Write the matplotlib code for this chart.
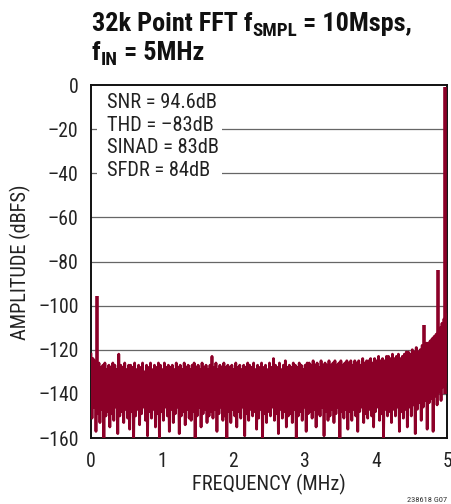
import numpy as np
import matplotlib
matplotlib.use("Agg")
import matplotlib.pyplot as plt
from matplotlib import font_manager
from matplotlib.patches import Rectangle

installed = {f.name for f in font_manager.fontManager.ttflist}
narrow = [n for n in ['Liberation Sans Narrow', 'Roboto Condensed', 'Open Sans Condensed',
                      'Noto Sans Condensed', 'Liberation Sans'] if n in installed]
plt.rcParams['font.family'] = narrow[:1] + ['DejaVu Sans']

noise_db = [
    -122, -151, -124, -146, -125, -157, -127, -149, -126, -153, -128, -147, -127, -160, -126, -150, -129, -148, -127, -155,
    -128, -149, -126, -152, -127, -146, -129, -158, -122, -150, -127, -148, -128, -153, -126, -147, -129, -151, -127, -156,
    -127, -148, -128, -160, -126, -150, -129, -147, -127, -154, -128, -149, -126, -146, -130, -152, -127, -159, -128, -148,
    -126, -151, -129, -147, -127, -155, -128, -149, -126, -160, -127, -148, -129, -152, -126, -146, -128, -150, -127, -157,
    -128, -147, -127, -153, -129, -149, -126, -146, -128, -158, -127, -150, -129, -148, -126, -154, -128, -147, -127, -151,
    -129, -152, -127, -148, -126, -160, -128, -150, -127, -146, -129, -155, -126, -149, -128, -147, -127, -153, -129, -150,
    -127, -148, -123, -151, -128, -147, -126, -157, -129, -149, -127, -146, -128, -152, -126, -150, -128, -160, -127, -148,
    -128, -153, -127, -147, -129, -150, -126, -155, -128, -148, -127, -151, -129, -146, -127, -159, -128, -149, -126, -152,
    -127, -147, -128, -150, -126, -148, -129, -156, -127, -151, -128, -147, -126, -160, -128, -149, -127, -153, -129, -148,
    -126, -150, -128, -146, -124, -152, -127, -149, -128, -158, -126, -147, -129, -151, -127, -148, -125, -155, -128, -150,
    -127, -149, -128, -153, -126, -147, -127, -160, -128, -150, -126, -148, -127, -152, -129, -146, -127, -157, -126, -149,
    -126, -148, -127, -151, -125, -147, -127, -155, -126, -149, -128, -150, -125, -146, -127, -159, -126, -148, -127, -152,
    -125, -150, -127, -147, -126, -153, -125, -149, -127, -146, -126, -160, -125, -148, -127, -151, -126, -147, -125, -156,
    -126, -148, -125, -152, -127, -147, -125, -150, -126, -157, -125, -148, -127, -146, -124, -153, -126, -149, -125, -151,
    -125, -147, -124, -150, -126, -155, -124, -148, -125, -146, -123, -152, -125, -149, -124, -160, -125, -147, -123, -150,
    -123, -148, -124, -153, -122, -147, -124, -150, -123, -146, -122, -157, -124, -148, -123, -151, -122, -147, -121, -155,
    -121, -146, -122, -150, -120, -145, -121, -158, -119, -147, -121, -144, -120, -152, -118, -146, -119, -143, -117, -156,
    -117, -144, -116, -142, -115, -157, -114, -141, -113, -145, -112, -139, -110, -143, -108, -137, -106, -135, -104, -110,
]
# tone and spurs (MHz, dBFS)
spur_freq = [0.085, 4.67, 4.87, 4.975]
spur_db = [-95.5, -109, -84, -0.8]

yticks = [0, -20, -40, -60, -80, -100, -120, -140, -160]
ytick_labels = ['0', '–20', '–40', '–60', '–80', '–100', '–120', '–140', '–160']
xticks = [0, 1, 2, 3, 4, 5]
stats = ['SNR = 94.6dB', 'THD = –83dB', 'SINAD = 83dB', 'SFDR = 84dB']

red = '#8c0028'
ink = '#222222'

fig = plt.figure(figsize=(4.51, 5.04), dpi=100)
renderer = fig.canvas.get_renderer()

# shrink text sizes if only a wide font is around (reference uses a condensed face)
probe = fig.text(0, 0, '32k Point FFT f = 10Msps,', fontsize=18, fontweight='bold')
k = min(1.05, 284 / probe.get_window_extent(renderer).width)
probe.remove()
ks = max(k, 0.85)

ax = fig.add_axes([91 / 451, 1 - 438 / 504, 356 / 451, 353 / 504])

freq = np.linspace(0, 5, len(noise_db))
ax.plot(freq, noise_db, color=red, lw=2.0, zorder=3)
ax.vlines(spur_freq, -140, spur_db, color=red, lw=2.6, zorder=3)

ax.set_xlim(0, 5)
ax.set_ylim(-160, 0)
ax.set_yticks(yticks)
ax.set_yticklabels(ytick_labels)
ax.set_xticks(xticks)
ax.tick_params(length=0, labelsize=13.5 * ks, colors=ink)
ax.tick_params(axis='x', pad=10)
ax.tick_params(axis='y', pad=9)
for y in yticks[1:-1]:
    ax.axhline(y, color='#666666', lw=0.9, zorder=1)
for s in ax.spines.values():
    s.set_linewidth(1.4)
    s.set_color('#111111')

# white panel behind the stats text
ax.add_patch(Rectangle((6 / 356, 253 / 353), 125 / 356, 90 / 353, transform=ax.transAxes,
                       facecolor='white', edgecolor='none', zorder=2))
for i, s in enumerate(stats):
    ax.text(16 / 356, -8.0 - 10.2 * i, s, transform=ax.get_yaxis_transform(),
            fontsize=14 * ks, va='center', ha='left', color=ink, zorder=4)

fig.text(269 / 451, 1 - 484 / 504, 'FREQUENCY (MHz)', ha='center', va='center',
         fontsize=14 * ks, color=ink)
fig.text(20 / 451, 1 - 262 / 504, 'AMPLITUDE (dBFS)', ha='center', va='center', rotation=90,
         fontsize=14 * ks, color=ink)
fig.text(447 / 451, 1 - 500 / 504, '238618 G07', ha='right', va='center', fontsize=6, color='#333333')


def draw_runs(x_px, base_px, runs):
    # title pieces with lowered, smaller subscripts
    x = x_px
    for txt, size, drop in runs:
        t = fig.text(x / 451, 1 - (base_px + drop) / 504, txt, fontsize=size * k, fontweight='bold',
                     va='baseline', ha='left', color='#111111')
        x += t.get_window_extent(renderer).width


draw_runs(92, 31, [('32k Point FFT f', 18, 0), ('SMPL', 13, 5), (' = 10Msps,', 18, 0)])
draw_runs(92, 60, [('f', 18, 0), ('IN', 13, 5), (' = 5MHz', 18, 0)])

fig.savefig('out.png', dpi=100)
